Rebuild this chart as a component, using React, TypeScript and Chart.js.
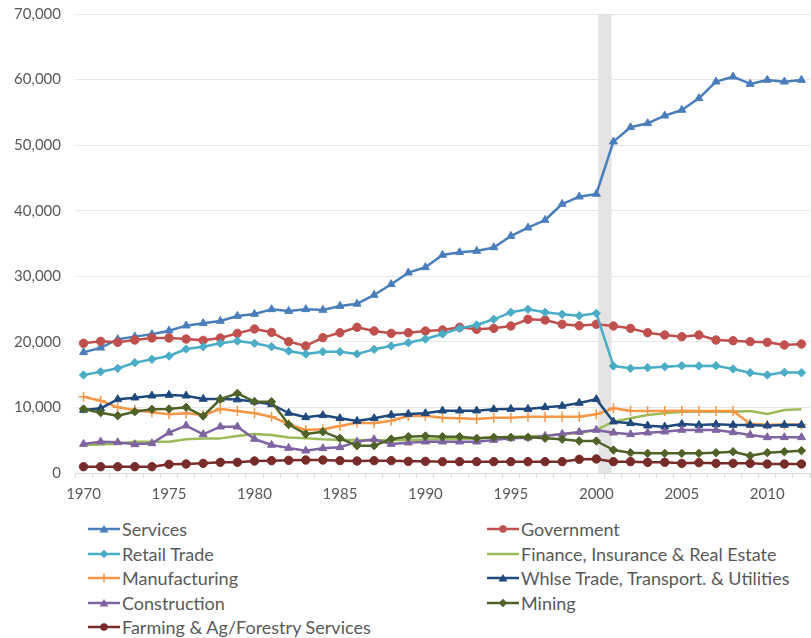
import React, { useEffect, useRef } from 'react';
import { Chart, registerables } from 'chart.js';

Chart.register(...registerables);

const years = [
  1970, 1971, 1972, 1973, 1974, 1975, 1976, 1977, 1978, 1979,
  1980, 1981, 1982, 1983, 1984, 1985, 1986, 1987, 1988, 1989,
  1990, 1991, 1992, 1993, 1994, 1995, 1996, 1997, 1998, 1999,
  2000, 2001, 2002, 2003, 2004, 2005, 2006, 2007, 2008, 2009,
  2010, 2011, 2012,
];

const services = [
  18400, 19100, 20400, 20800, 21150, 21700, 22470, 22830, 23180, 23940,
  24250, 24960, 24700, 24960, 24860, 25470, 25800, 27150, 28780, 30550,
  31370, 33250, 33660, 33860, 34400, 36140, 37410, 38580, 41020, 42140,
  42550, 50530, 52720, 53330, 54490, 55360, 57140, 59680, 60440, 59330,
  59940, 59680, 59940,
];
const government = [
  19780, 20080, 19930, 20280, 20590, 20590, 20430, 20230, 20590, 21300,
  21960, 21450, 20030, 19370, 20640, 21400, 22220, 21660, 21300, 21400,
  21660, 21810, 22220, 21910, 22060, 22420, 23440, 23330, 22680, 22470,
  22680, 22420, 22060, 21400, 21050, 20790, 21050, 20280, 20180, 20030,
  19930, 19520, 19670,
];
const retailTrade = [
  14950, 15450, 15960, 16820, 17340, 17840, 18910, 19260, 19780, 20130,
  19780, 19260, 18600, 18150, 18500, 18500, 18150, 18860, 19370, 19870,
  20430, 21200, 22060, 22570, 23440, 24500, 24960, 24500, 24200, 23990,
  24350, 16320, 15960, 16060, 16210, 16370, 16320, 16370, 15860, 15300,
  14950, 15350, 15300,
];
const finance = [
  4270, 4350, 4450, 4780, 4780, 4780, 5130, 5280, 5280, 5640,
  5940, 5790, 5430, 5290, 5130, 5030, 5030, 5000, 5000, 5050,
  5100, 5150, 5200, 5250, 5400, 5540, 5600, 5700, 5900, 6100,
  6560, 7830, 8340, 8850, 9100, 9350, 9350, 9350, 9350, 9460,
  9000, 9610, 9710,
];
const manufacturing = [
  11640, 11030, 10020, 9610, 9250, 8950, 9100, 8850, 9760, 9460,
  9100, 8590, 7450, 6560, 6660, 7170, 7670, 7580, 7980, 8690,
  8740, 8440, 8340, 8240, 8440, 8440, 8590, 8590, 8590, 8590,
  8950, 9860, 9510, 9460, 9460, 9510, 9460, 9460, 9460, 7500,
  7350, 7400, 7400,
];
const wholesale = [
  9610, 9860, 11240, 11490, 11790, 11900, 11790, 11290, 11290, 11200,
  10880, 10470, 9150, 8490, 8800, 8340, 7930, 8340, 8850, 9000,
  9100, 9510, 9510, 9510, 9710, 9760, 9760, 10020, 10220, 10680,
  11240, 7830, 7580, 7220, 7060, 7470, 7320, 7420, 7320, 7320,
  7220, 7320, 7320,
];
const construction = [
  4420, 4780, 4680, 4370, 4520, 6150, 7220, 5900, 7060, 7060,
  5180, 4270, 3810, 3400, 3760, 3910, 4780, 5130, 4420, 4630,
  4780, 4780, 4780, 4780, 5030, 5290, 5390, 5640, 5950, 6250,
  6560, 6150, 5900, 6150, 6300, 6560, 6560, 6560, 6200, 5800,
  5440, 5440, 5440,
];
const mining = [
  9760, 9200, 8740, 9350, 9710, 9760, 10020, 8690, 11240, 12150,
  10880, 10880, 7400, 5950, 6300, 5290, 4170, 4170, 5180, 5540,
  5640, 5540, 5540, 5290, 5440, 5440, 5440, 5290, 5140, 4880,
  4880, 3510, 3100, 3000, 3000, 3000, 3000, 3100, 3250, 2640,
  3100, 3250, 3400,
];
const farming = [
  960, 960, 960, 960, 960, 1320, 1370, 1470, 1630, 1630,
  1830, 1880, 1930, 1980, 1980, 1880, 1830, 1880, 1880, 1780,
  1780, 1730, 1730, 1730, 1730, 1730, 1730, 1730, 1730, 2090,
  2140, 1730, 1730, 1630, 1630, 1470, 1580, 1470, 1470, 1470,
  1370, 1370, 1370,
];

const yTicks = [0, 10000, 20000, 30000, 40000, 50000, 60000, 70000];
const bandYear = 2000;

type Marker = 'triangle' | 'circle' | 'rectRot' | 'cross' | 'none';
interface SeriesDef { label: string; data: number[]; color: string; marker: Marker; }

const series: SeriesDef[] = [
  { label: 'Services', data: services, color: '#4a7ebb', marker: 'triangle' },
  { label: 'Government', data: government, color: '#c0504d', marker: 'circle' },
  { label: 'Retail Trade', data: retailTrade, color: '#4bacc6', marker: 'rectRot' },
  { label: 'Finance, Insurance & Real Estate', data: finance, color: '#9bbb59', marker: 'none' },
  { label: 'Manufacturing', data: manufacturing, color: '#f79646', marker: 'cross' },
  { label: 'Whlse Trade, Transport. & Utilities', data: wholesale, color: '#1f497d', marker: 'triangle' },
  { label: 'Construction', data: construction, color: '#8064a2', marker: 'triangle' },
  { label: 'Mining', data: mining, color: '#4f6228', marker: 'rectRot' },
  { label: 'Farming & Ag/Forestry Services', data: farming, color: '#772c2a', marker: 'circle' },
];

const FONT = 'Lato, "Open Sans", sans-serif';

const bandPlugin = {
  id: 'band',
  beforeDatasetsDraw(chart: any) {
    const x = chart.scales.x;
    const area = chart.chartArea;
    const i = years.indexOf(bandYear);
    const a = x.getPixelForValue(i);
    const b = x.getPixelForValue(i + 1);
    const w = (b - a) * 0.78;
    const c = (a + b) / 2;
    const ctx = chart.ctx;
    ctx.save();
    ctx.fillStyle = '#e4e4e4';
    ctx.fillRect(c - w / 2, area.top, w, area.bottom - area.top);
    ctx.restore();
  },
};

function LegendMarker({ color, marker }: { color: string; marker: Marker }) {
  let m: React.ReactNode = null;
  if (marker === 'triangle') m = <polygon points="16,2 20.5,9.5 11.5,9.5" fill={color} />;
  else if (marker === 'circle') m = <circle cx="16" cy="6" r="3.8" fill={color} />;
  else if (marker === 'rectRot') m = <polygon points="16,1.8 20.2,6 16,10.2 11.8,6" fill={color} />;
  else if (marker === 'cross')
    m = (
      <g stroke={color} strokeWidth="1.5">
        <line x1="16" y1="1.5" x2="16" y2="10.5" />
      </g>
    );
  return (
    <svg width="32" height="12" style={{ display: 'block', flex: 'none' }}>
      <line x1="0" y1="6" x2="32" y2="6" stroke={color} strokeWidth="2.5" />
      {m}
    </svg>
  );
}

export default function App() {
  const ref = useRef<HTMLCanvasElement | null>(null);

  useEffect(() => {
    if (!ref.current) return;
    const n = series.length;
    const chart = new Chart(ref.current, {
      type: 'line',
      data: {
        labels: years.map(String),
        datasets: series.map((s, i) => ({
          label: s.label,
          data: s.data,
          borderColor: s.color,
          backgroundColor: s.color,
          pointBackgroundColor: s.color,
          pointBorderColor: s.color,
          borderWidth: 2.5,
          borderJoinStyle: 'round' as const,
          pointStyle: s.marker === 'none' ? false : (s.marker as any),
          pointRadius: s.marker === 'none' ? 0 : s.marker === 'cross' ? 5 : s.marker === 'triangle' ? 4.6 : 4.2,
          pointBorderWidth: s.marker === 'cross' ? 1.5 : 1,
          tension: 0,
          fill: false,
          clip: 8,
          order: n - i,
        })),
      },
      options: {
        responsive: false,
        animation: false,
        events: [],
        layout: { autoPadding: false, padding: { left: 0, right: 1, top: 14, bottom: 0 } },
        plugins: {
          legend: { display: false },
          tooltip: { enabled: false },
        },
        scales: {
          x: {
            type: 'category',
            offset: true,
            grid: {
              display: true,
              drawOnChartArea: false,
              drawTicks: true,
              tickLength: 5,
              offset: true,
              color: '#d9d9d9',
            },
            border: { display: true, color: '#d9d9d9', width: 1 },
            ticks: {
              autoSkip: false,
              maxRotation: 0,
              minRotation: 0,
              padding: 7,
              color: '#595959',
              font: { family: FONT, size: 15 },
              callback: (_v: any, idx: number) => (years[idx] % 5 === 0 ? String(years[idx]) : ''),
            },
            afterFit: (scale: any) => {
              scale.height = 37;
              scale.paddingLeft = 0;
              scale.paddingRight = 0;
              scale.paddingTop = 0;
              scale.paddingBottom = 0;
            },
          },
          y: {
            min: yTicks[0],
            max: yTicks[yTicks.length - 1],
            afterBuildTicks: (scale: any) => {
              scale.ticks = yTicks.map((v) => ({ value: v }));
            },
            grid: { color: '#e6e6e6', drawTicks: false, lineWidth: 1 },
            border: { display: false },
            ticks: {
              padding: 14,
              color: '#595959',
              font: { family: FONT, size: 15 },
              callback: (v: any) => Number(v).toLocaleString('en-US'),
            },
            afterFit: (scale: any) => {
              scale.width = 75;
              scale.paddingLeft = 0;
              scale.paddingRight = 0;
              scale.paddingTop = 0;
              scale.paddingBottom = 0;
            },
          },
        },
      },
      plugins: [bandPlugin],
    });
    return () => chart.destroy();
  }, []);

  const col1 = series.filter((_, i) => i % 2 === 0);
  const col2 = series.filter((_, i) => i % 2 === 1);
  const rowTop = 518;
  const rowStep = 24.6;

  const renderItem = (s: SeriesDef, left: number, row: number) => (
    <div
      key={s.label}
      style={{
        position: 'absolute',
        left,
        top: rowTop + row * rowStep,
        height: 22,
        display: 'flex',
        alignItems: 'center',
        fontFamily: FONT,
        fontSize: 18,
        color: '#595959',
        whiteSpace: 'nowrap',
      }}
    >
      <LegendMarker color={s.color} marker={s.marker} />
      <span style={{ marginLeft: 2 }}>{s.label}</span>
    </div>
  );

  return (
    <div style={{ position: 'absolute', left: 0, top: 0, width: 811, height: 638, background: '#fff', overflow: 'hidden' }}>
      <canvas ref={ref} width={811} height={510} style={{ display: 'block', width: 811, height: 510 }} />
      {col1.map((s, r) => renderItem(s, 88, r))}
      {col2.map((s, r) => renderItem(s, 487, r))}
    </div>
  );
}
